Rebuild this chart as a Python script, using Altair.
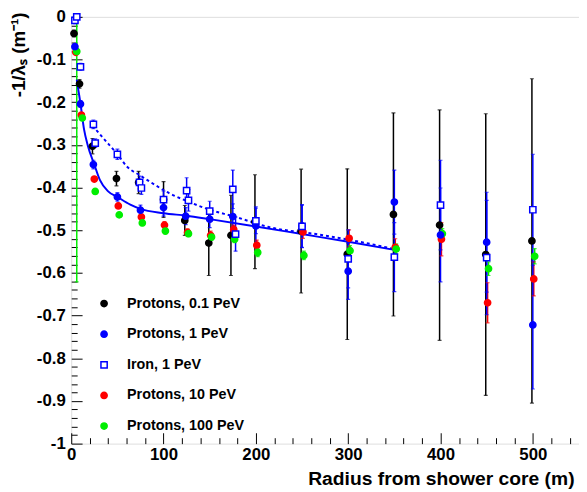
import altair as alt
import pandas as pd

FONT = "Liberation Sans"

# ---------------- data ----------------
series = ["Protons, 0.1 PeV", "Protons, 1 PeV", "Iron, 1 PeV", "Protons, 10 PeV", "Protons, 100 PeV"]
stroke_colors = ["#000000", "#0000ff", "#0000ff", "#ff0000", "#00ee00"]
fill_colors = ["#000000", "#0000ff", "#ffffff", "#ff0000", "#00ee00"]
shapes = ["circle", "circle", "square", "circle", "circle"]

p01_r = [3, 9, 23, 49, 73, 100, 123, 149, 173, 199, 249, 299, 349, 399, 449, 499]
p01_v = [-0.039, -0.157, -0.303, -0.379, -0.388, -0.428, -0.477, -0.530, -0.512, -0.480,
         -0.502, -0.556, -0.463, -0.488, -0.557, -0.525]
p01_e = [0.008, 0.01, 0.018, 0.017, 0.026, 0.042, 0.035, 0.076, 0.094, 0.11,
         0.145, 0.2, 0.238, 0.27, 0.33, 0.38]

p1_r = [4, 10, 24, 50, 75, 100, 124, 150, 175, 200, 250, 300, 350, 400, 450, 500]
p1_v = [-0.070, -0.204, -0.346, -0.422, -0.453, -0.447, -0.467, -0.474, -0.468, -0.490,
        -0.490, -0.596, -0.434, -0.511, -0.528, -0.722]
p1_e = [0.006, 0.008, 0.01, 0.01, 0.012, 0.02, 0.02, 0.02, 0.03, 0.045,
        0.05, 0.066, 0.075, 0.11, 0.117, 0.15]

fe_r = [4, 6, 10, 24, 26, 50, 74, 76, 100, 125, 127, 150, 175, 178, 200, 250, 300, 350, 400, 450, 500]
fe_v = [-0.008, 0.0, -0.117, -0.252, -0.296, -0.322, -0.388, -0.401, -0.428, -0.407, -0.430,
        -0.455, -0.404, -0.509, -0.478, -0.491, -0.567, -0.563, -0.441, -0.564, -0.452]
fe_e = [0.008, 0.008, 0.008, 0.01, 0.01, 0.012, 0.015, 0.015, 0.02, 0.03, 0.025,
        0.023, 0.045, 0.04, 0.03, 0.05, 0.068, 0.081, 0.105, 0.134, 0.13]

p10_r = [5, 11, 25, 51, 76, 101, 126, 151, 176, 201, 251, 301, 351, 401, 451, 501]
p10_v = [-0.083, -0.230, -0.380, -0.443, -0.469, -0.488, -0.505, -0.512, -0.498, -0.535,
         -0.504, -0.519, -0.540, -0.521, -0.670, -0.614]
p10_e = [0.004, 0.005, 0.006, 0.006, 0.007, 0.008, 0.008, 0.01, 0.01, 0.012,
         0.015, 0.02, 0.02, 0.039, 0.047, 0.04]

p100_r = [6, 12, 26, 52, 77, 102, 127, 152, 177, 202, 252, 302, 352, 402, 452, 502]
p100_v = [-0.081, -0.237, -0.409, -0.464, -0.483, -0.502, -0.508, -0.516, -0.521, -0.552,
          -0.559, -0.548, -0.544, -0.508, -0.590, -0.561]
p100_e = [0.54, 0.004, 0.005, 0.005, 0.006, 0.007, 0.007, 0.008, 0.008, 0.01,
          0.01, 0.012, 0.012, 0.012, 0.016, 0.018]

# fitted curves
fit_p1_r = [6, 8, 10, 14, 18, 25, 31, 40, 50, 64, 75, 100, 125, 150, 200, 250, 300, 350]
fit_p1_v = [-0.147, -0.175, -0.203, -0.265, -0.302, -0.346, -0.382, -0.409, -0.422, -0.440,
            -0.450, -0.460, -0.466, -0.474, -0.491, -0.509, -0.527, -0.546]
fit_fe_r = [23, 35, 50, 60, 75, 85, 106, 128, 150, 175, 217, 265, 300, 350]
fit_fe_v = [-0.255, -0.285, -0.322, -0.350, -0.372, -0.386, -0.413, -0.434, -0.452, -0.467,
            -0.494, -0.509, -0.522, -0.544]

x_major = [0, 100, 200, 300, 400, 500]
x_minor = [i * 20 for i in range(28)]
y_major = [0, -0.1, -0.2, -0.3, -0.4, -0.5, -0.6, -0.7, -0.8, -0.9, -1.0]
y_minor = [round(-i * 0.02, 2) for i in range(51)]

# ---------------- tables ----------------
rows = []
for name, rr, vv, ee in [
    (series[0], p01_r, p01_v, p01_e),
    (series[3], p10_r, p10_v, p10_e),
    (series[4], p100_r, p100_v, p100_e),
    (series[1], p1_r, p1_v, p1_e),
    (series[2], fe_r, fe_v, fe_e),
]:
    for r, v, e in zip(rr, vv, ee):
        rows.append({"series": name, "cidx": series.index(name),
                     "r": r, "v": v, "lo": v - e, "hi": v + e})
df = pd.DataFrame(rows)

fit_p1 = pd.DataFrame({"r": fit_p1_r, "v": fit_p1_v})
fit_fe = pd.DataFrame({"r": fit_fe_r, "v": fit_fe_v})

W, H = 514, 432
xscale = alt.Scale(domain=[0, 550], nice=False, zero=False)
yscale = alt.Scale(domain=[-1, 0], nice=False, zero=False)

# axes carrying labels and titles (no ticks)
x_label_axis = alt.Axis(
    orient="bottom", values=x_major, format="d", labelFlush=False,
    labelFont=FONT, labelFontSize=17, labelFontWeight="bold", labelColor="black",
    labelPadding=3, ticks=False, tickSize=0, domain=False, grid=False,
    title="Radius from shower core (m)", titleFont=FONT, titleFontSize=19.5,
    titleFontWeight="bold", titleColor="black", titleX=509, titleY=41,
    titleAlign="right", titleBaseline="alphabetic",
)
y_label_axis = alt.Axis(
    orient="left", values=y_major,
    labelExpr="datum.value == 0 ? '0' : (datum.value == -1 ? '-1' : '-' + format(-datum.value, '.1f'))",
    labelFont=FONT, labelFontSize=17, labelFontWeight="bold", labelColor="black",
    labelPadding=6, labelFlush=False, ticks=False, tickSize=0, domain=False, grid=False,
    title="-1/λₛ (m⁻¹)", titleFont=FONT, titleFontSize=19, titleFontWeight="bold",
    titleColor="black", titleX=-53, titleY=-5, titleAlign="right", titleAngle=270,
    titleBaseline="middle",
)
# axes carrying inward ticks only
x_tick_axis = alt.Axis(
    orient="top", offset=-H, values=x_minor, labels=False, domain=False, grid=False,
    ticks=True, tickColor="black", tickWidth=1,
    tickSize={"condition": {"test": "datum.value % 100 === 0", "value": 11}, "value": 6},
    title=None,
)
y_tick_axis = alt.Axis(
    orient="right", offset=-W, values=y_minor, labels=False, domain=False, grid=False,
    ticks=True, tickColor="black", tickWidth=1,
    tickSize={"condition": {"test": "abs(round(datum.value * 100)) % 10 === 0", "value": 11}, "value": 6},
    title=None,
)

legend = alt.Legend(
    orient="none", legendX=26, legendY=283, title=None, padding=0,
    labelFont=FONT, labelFontSize=14.5, labelFontWeight="bold", labelColor="black",
    symbolSize=40, symbolStrokeWidth=1.5, labelOffset=16, rowPadding=16,
    direction="vertical",
)

# error-bar colours keyed by series index (separate scale, no legend)
bar_scale = alt.Scale(domain=[0, 1, 2, 3, 4], range=stroke_colors)

rules = alt.Chart(df).mark_rule(strokeWidth=1.5, clip=True).encode(
    x=alt.X("r:Q", scale=xscale, axis=x_label_axis),
    y=alt.Y("lo:Q", scale=yscale, axis=y_label_axis),
    y2="hi:Q",
    color=alt.Color("cidx:O", scale=bar_scale, legend=None),
)
caps_lo = alt.Chart(df).mark_tick(orient="horizontal", size=4, thickness=1.2, clip=True).encode(
    x=alt.X("r:Q", scale=xscale, axis=None),
    y=alt.Y("lo:Q", scale=yscale, axis=None),
    color=alt.Color("cidx:O", scale=bar_scale, legend=None),
)
caps_hi = alt.Chart(df).mark_tick(orient="horizontal", size=4, thickness=1.2, clip=True).encode(
    x=alt.X("r:Q", scale=xscale, axis=None),
    y=alt.Y("hi:Q", scale=yscale, axis=None),
    color=alt.Color("cidx:O", scale=bar_scale, legend=None),
)
line_p1 = alt.Chart(fit_p1).mark_line(color="#0000ff", strokeWidth=2, interpolate="monotone").encode(
    x=alt.X("r:Q", scale=xscale, axis=None),
    y=alt.Y("v:Q", scale=yscale, axis=None),
)
line_fe = alt.Chart(fit_fe).mark_line(color="#0000ff", strokeWidth=2, strokeDash=[3, 3],
                                       interpolate="monotone").encode(
    x=alt.X("r:Q", scale=xscale, axis=None),
    y=alt.Y("v:Q", scale=yscale, axis=None),
)
points = alt.Chart(df).mark_point(size=40, opacity=1, strokeWidth=1.5).encode(
    x=alt.X("r:Q", scale=xscale, axis=x_tick_axis),
    y=alt.Y("v:Q", scale=yscale, axis=y_tick_axis),
    stroke=alt.Stroke("series:N", scale=alt.Scale(domain=series, range=stroke_colors), legend=legend),
    fill=alt.Fill("series:N", scale=alt.Scale(domain=series, range=fill_colors), legend=legend),
    shape=alt.Shape("series:N", scale=alt.Scale(domain=series, range=shapes), legend=legend),
)

chart = alt.layer(rules, caps_lo, caps_hi, line_p1, line_fe, points).resolve_axis(
    x="independent", y="independent"
).properties(
    width=W, height=H,
    autosize=alt.AutoSizeParams(type="none"),
    padding={"left": 64, "top": 6, "right": 0, "bottom": 46},
    background="white",
).configure_view(
    stroke="black", strokeWidth=1
).configure(font=FONT)

chart.save("out.html", embed_options={"renderer": "svg", "actions": False})
